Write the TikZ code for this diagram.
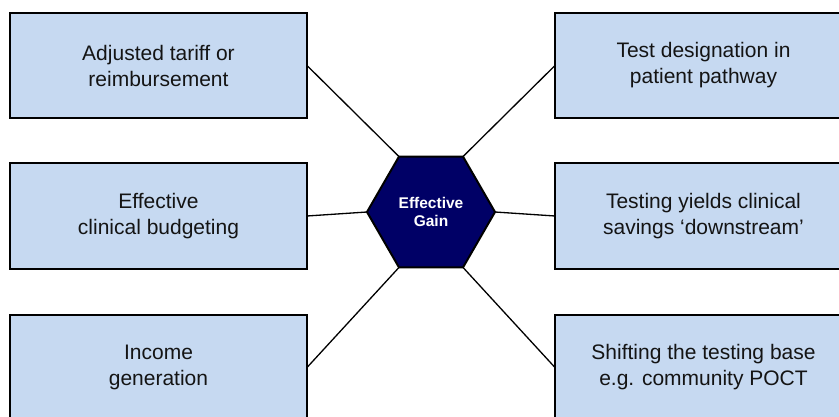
\documentclass[tikz,border=0pt]{standalone}
\usepackage{fontspec}
\setmainfont{Liberation Sans}
\usetikzlibrary{shapes.geometric}
\definecolor{boxfill}{RGB}{198,217,241}
\definecolor{hexfill}{RGB}{0,0,102}
\definecolor{txt}{RGB}{20,20,20}
\tikzset{
  box/.style={draw=black, line width=2pt, fill=boxfill, rectangle,
    minimum width=297pt, minimum height=105pt, inner sep=0pt, outer sep=0pt,
    align=center, text=txt,
    font=\fontsize{21}{26}\selectfont},
  hexnode/.style={draw=black, line width=2pt, fill=hexfill, regular polygon,
    regular polygon sides=6, minimum size=128pt, inner sep=0pt, outer sep=0pt,
    align=center, text=white, font=\bfseries\fontsize{15.5}{18}\selectfont},
  link/.style={draw=black, line width=1.3pt}
}
\begin{document}
\begin{tikzpicture}[x=1pt,y=-1pt]
\useasboundingbox (0,0) rectangle (839,417);
\clip (0,0) rectangle (839,417);
\fill[white] (0,0) rectangle (839,417);
\node[hexnode] (hex) at (431,212) {Effective\\Gain};
\node[box] (l1) at (158.5,65.5) {Adjusted tariff or\\reimbursement};
\node[box] (l2) at (158.5,216) {Effective\\clinical budgeting};
\node[box] (l3) at (158.5,367.5) {Income\\generation};
\node[box] (r1) at (703.5,65.5) {Test designation in\\patient pathway};
\node[box] (r2) at (703.5,216) {Testing yields clinical\\savings ‘downstream’};
\node[box] (r3) at (703.5,367.5) {Shifting the testing base\\e.g. community POCT};
\draw[link] (l1.east) -- (hex.120);
\draw[link] (l2.east) -- (hex.180);
\draw[link] (l3.east) -- (hex.240);
\draw[link] (r1.west) -- (hex.60);
\draw[link] (r2.west) -- (hex.0);
\draw[link] (r3.west) -- (hex.300);
\end{tikzpicture}
\end{document}
